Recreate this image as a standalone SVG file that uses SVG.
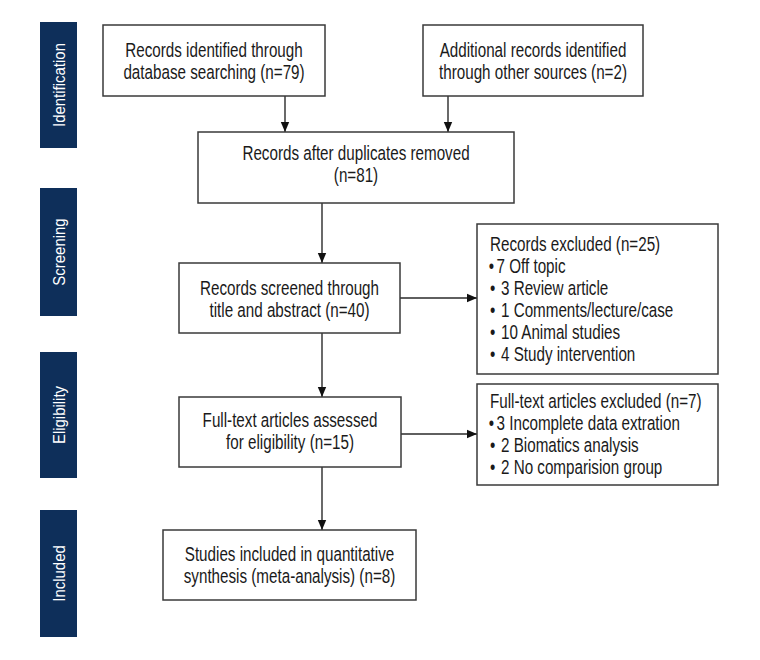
<svg xmlns="http://www.w3.org/2000/svg" width="760" height="660" viewBox="0 0 760 660">
<style>
.bg{fill:#ffffff}
.box{fill:#ffffff;stroke:#3a3a3a;stroke-width:1.5}
.bar{fill:#0e2f5a}
.t{font-family:"Liberation Sans",Arial,sans-serif;font-size:19.5px;fill:#1a1a1a}
.c{text-anchor:middle}
.side{font-family:"Liberation Sans",Arial,sans-serif;font-size:17px;fill:#ffffff;text-anchor:middle}
.ln{fill:none;stroke:#2a2a2a;stroke-width:1.4}
</style>
<defs>
<marker id="ah" viewBox="0 0 10 10" refX="10" refY="5" markerWidth="10" markerHeight="10" markerUnits="userSpaceOnUse" orient="auto">
<path d="M0,0.8 L10,5 L0,9.2 Z" fill="#111111"/>
</marker>
</defs>
<rect class="bg" x="0" y="0" width="760" height="660"/>

<g id="stage-identification">
<rect class="bar" x="40" y="22" width="37" height="126"/>
<text class="side" transform="translate(64.5,85) rotate(-90) scale(0.88,1)">Identification</text>
</g>
<g id="stage-screening">
<rect class="bar" x="40" y="188" width="37" height="128"/>
<text class="side" transform="translate(64.5,252) rotate(-90) scale(0.88,1)">Screening</text>
</g>
<g id="stage-eligibility">
<rect class="bar" x="40" y="352" width="37" height="126"/>
<text class="side" transform="translate(64.5,415) rotate(-90) scale(0.88,1)">Eligibility</text>
</g>
<g id="stage-included">
<rect class="bar" x="40" y="510" width="37" height="127"/>
<text class="side" transform="translate(64.5,573.5) rotate(-90) scale(0.88,1)">Included</text>
</g>

<g id="connectors">
<line class="ln" x1="285" y1="96" x2="285" y2="132" marker-end="url(#ah)"/>
<line class="ln" x1="448" y1="96" x2="448" y2="132" marker-end="url(#ah)"/>
<line class="ln" x1="322" y1="203" x2="322" y2="263" marker-end="url(#ah)"/>
<line class="ln" x1="322" y1="333" x2="322" y2="397" marker-end="url(#ah)"/>
<line class="ln" x1="322" y1="467" x2="322" y2="530" marker-end="url(#ah)"/>
<line class="ln" x1="400" y1="298" x2="477" y2="298" marker-end="url(#ah)"/>
<line class="ln" x1="401" y1="434" x2="477" y2="434" marker-end="url(#ah)"/>
</g>

<g id="db-records">
<rect class="box" x="103" y="25" width="222" height="71"/>
<g transform="translate(214,0) scale(0.78,1)">
<text class="t c" x="0" y="57">Records identified through</text>
<text class="t c" x="0" y="79">database searching (n=79)</text>
</g>
</g>
<g id="other-records">
<rect class="box" x="423" y="25" width="220" height="71"/>
<g transform="translate(533,0) scale(0.78,1)">
<text class="t c" x="0" y="57">Additional records identified</text>
<text class="t c" x="0" y="79">through other sources (n=2)</text>
</g>
</g>
<g id="dedup">
<rect class="box" x="198" y="132" width="316" height="71"/>
<g transform="translate(356,0) scale(0.78,1)">
<text class="t c" x="0" y="160">Records after duplicates removed</text>
<text class="t c" x="0" y="182">(n=81)</text>
</g>
</g>
<g id="screened">
<rect class="box" x="179" y="263" width="221" height="70"/>
<g transform="translate(289.5,0) scale(0.78,1)">
<text class="t c" x="0" y="295">Records screened through</text>
<text class="t c" x="0" y="317">title and abstract (n=40)</text>
</g>
</g>
<g id="excluded-records">
<rect class="box" x="477" y="224" width="241" height="150"/>
<g transform="translate(490,0) scale(0.78,1)">
<text class="t" x="0" y="251">Records excluded (n=25)</text>
<text class="t" y="273"><tspan x="-1.5">•</tspan><tspan x="8.4">7 Off topic</tspan></text>
<text class="t" y="295"><tspan x="0">•</tspan><tspan x="14.1">3 Review article</tspan></text>
<text class="t" y="317"><tspan x="0">•</tspan><tspan x="14.1">1 Comments/lecture/case</tspan></text>
<text class="t" y="339"><tspan x="0">•</tspan><tspan x="14.1">10 Animal studies</tspan></text>
<text class="t" y="361"><tspan x="0">•</tspan><tspan x="14.1">4 Study intervention</tspan></text>
</g>
</g>
<g id="fulltext">
<rect class="box" x="179" y="397" width="222" height="70"/>
<g transform="translate(290,0) scale(0.78,1)">
<text class="t c" x="0" y="427">Full-text articles assessed</text>
<text class="t c" x="0" y="449">for eligibility (n=15)</text>
</g>
</g>
<g id="excluded-fulltext">
<rect class="box" x="477" y="384" width="241" height="101"/>
<g transform="translate(490,0) scale(0.78,1)">
<text class="t" x="0" y="408">Full-text articles excluded (n=7)</text>
<text class="t" y="430"><tspan x="-1.5">•</tspan><tspan x="8.4">3 Incomplete data extration</tspan></text>
<text class="t" y="452"><tspan x="0">•</tspan><tspan x="14.1">2 Biomatics analysis</tspan></text>
<text class="t" y="474"><tspan x="0">•</tspan><tspan x="14.1">2 No comparision group</tspan></text>
</g>
</g>
<g id="included">
<rect class="box" x="163" y="530" width="253" height="70"/>
<g transform="translate(289.5,0) scale(0.78,1)">
<text class="t c" x="0" y="561">Studies included in quantitative</text>
<text class="t c" x="0" y="583">synthesis (meta-analysis) (n=8)</text>
</g>
</g>
</svg>
